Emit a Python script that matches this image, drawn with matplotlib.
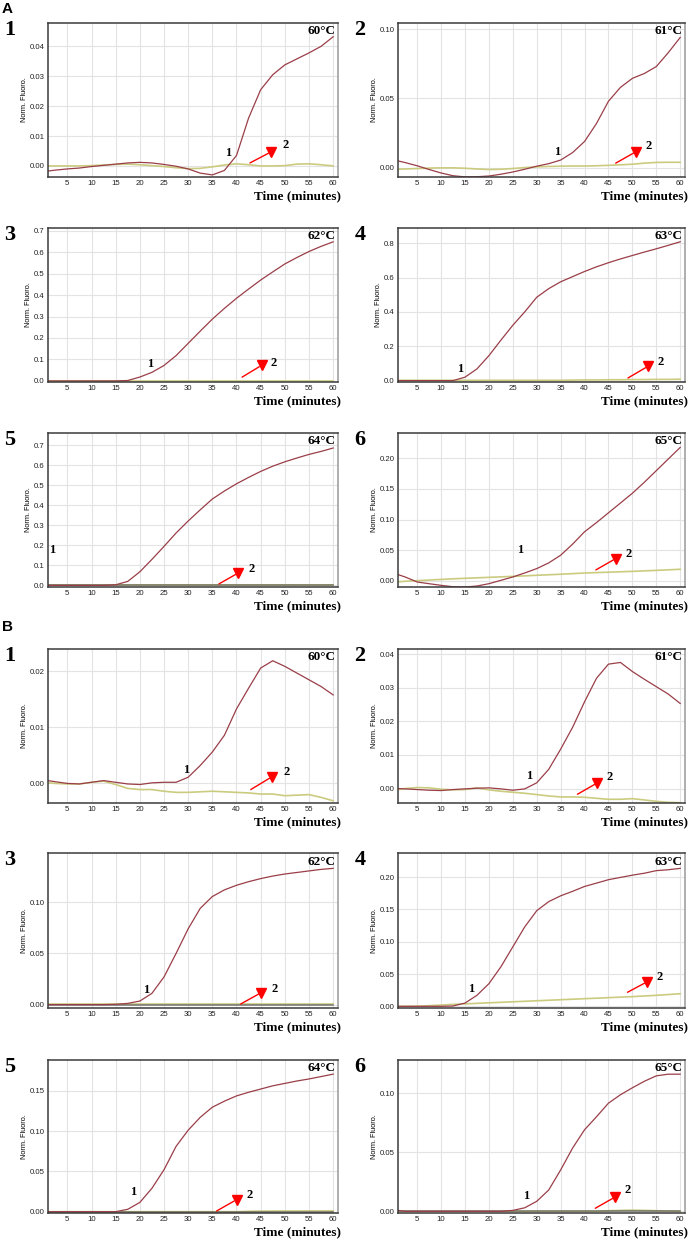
import matplotlib
matplotlib.use("Agg")
import matplotlib.pyplot as plt

# time axis (minutes)
t = [1, 2.5, 5, 7.5, 10, 12.5, 15, 17.5, 20, 22.5, 25, 27.5, 30,
     32.5, 35, 37.5, 40, 42.5, 45, 47.5, 50, 52.5, 55, 57.5, 60]

# ---- section A ----
a1_red = [-0.0017, -0.0014, -0.0010, -0.0007, -0.0002, 0.0002, 0.0006, 0.0010, 0.0012, 0.0010,
          0.0005, -0.0001, -0.0010, -0.0024, -0.0030, -0.0015, 0.0035, 0.0160, 0.0255, 0.0305,
          0.0338, 0.0358, 0.0378, 0.0400, 0.0432]
a1_yel = [0.0000, 0.0000, 0.0000, 0.0000, 0.0001, 0.0003, 0.0005, 0.0006, 0.0004, 0.0001,
          -0.0002, -0.0006, -0.0009, -0.0008, -0.0003, 0.0003, 0.0007, 0.0004, 0.0000, 0.0000,
          0.0001, 0.0006, 0.0007, 0.0004, 0.0000]

a2_red = [0.0050, 0.0038, 0.0015, -0.0012, -0.0037, -0.0057, -0.0065, -0.0064, -0.0059, -0.0046,
          -0.0030, -0.0010, 0.0012, 0.0030, 0.0056, 0.0110, 0.0190, 0.0320, 0.0480, 0.0580,
          0.0645, 0.0680, 0.0730, 0.0830, 0.0940]
a2_yel = [-0.0010, -0.0008, -0.0005, -0.0002, 0.0000, 0.0000, -0.0003, -0.0008, -0.0012, -0.0010,
          -0.0005, 0.0002, 0.0007, 0.0010, 0.0012, 0.0013, 0.0013, 0.0015, 0.0018, 0.0022,
          0.0026, 0.0034, 0.0039, 0.0040, 0.0040]

a3_red = [0.0, 0.0, 0.0, 0.0, 0.0, 0.0, 0.0, 0.002, 0.018, 0.040,
          0.072, 0.118, 0.175, 0.232, 0.288, 0.338, 0.385, 0.428, 0.470, 0.508,
          0.545, 0.575, 0.603, 0.627, 0.648]
a3_yel = [0.001, 0.001, 0.001, 0.001, 0.001, 0.001, 0.001, 0.001, 0.001, 0.001,
          0.001, 0.001, 0.001, 0.001, 0.001, 0.001, 0.001, 0.001, 0.001, 0.001,
          0.001, 0.001, 0.001, 0.001, 0.001]

a4_red = [0.0, 0.0, 0.0, 0.0, 0.0, 0.0, 0.020, 0.068, 0.145, 0.235,
          0.322, 0.400, 0.485, 0.535, 0.575, 0.605, 0.635, 0.662, 0.686, 0.708,
          0.728, 0.748, 0.767, 0.787, 0.808]
a4_yel = [0.002, 0.002, 0.002, 0.002, 0.002, 0.002, 0.002, 0.002, 0.002, 0.002,
          0.002, 0.002, 0.002, 0.002, 0.002, 0.003, 0.004, 0.004, 0.005, 0.005,
          0.006, 0.006, 0.007, 0.007, 0.008]

a5_red = [0.0, 0.0, 0.0, 0.0, 0.0, 0.0, 0.003, 0.020, 0.068, 0.130,
          0.195, 0.262, 0.322, 0.378, 0.432, 0.472, 0.508, 0.540, 0.570, 0.596,
          0.618, 0.637, 0.655, 0.670, 0.687]
a5_yel = [0.0, 0.0, 0.0, 0.0, 0.0, 0.0, 0.0, 0.0, 0.0, 0.0,
          0.0, 0.0, 0.0, 0.0, 0.0, 0.0, 0.0, 0.0, 0.0, 0.0,
          0.0, 0.0, 0.0, 0.0, 0.0]

a6_red = [0.0099, 0.0060, -0.0022, -0.0050, -0.0077, -0.0100, -0.0104, -0.0088, -0.0050, 0.0005,
          0.0060, 0.0126, 0.0197, 0.0290, 0.0416, 0.0597, 0.0800, 0.0950, 0.1110, 0.1270,
          0.1430, 0.1610, 0.1800, 0.1990, 0.2180]
a6_yel = [-0.0020, -0.0010, 0.0000, 0.0010, 0.0020, 0.0030, 0.0038, 0.0046, 0.0054, 0.0062,
          0.0070, 0.0078, 0.0088, 0.0096, 0.0105, 0.0115, 0.0125, 0.0132, 0.0138, 0.0145,
          0.0152, 0.0160, 0.0168, 0.0177, 0.0186]

# ---- section B ----
b1_red = [0.0005, 0.0003, 0.0000, -0.0001, 0.0002, 0.0005, 0.0002, -0.0001, -0.0002, 0.0001,
          0.0002, 0.0002, 0.0011, 0.0032, 0.0056, 0.0086, 0.0133, 0.0170, 0.0206, 0.0219,
          0.0209, 0.0197, 0.0185, 0.0173, 0.0158]
b1_yel = [0.0001, 0.0000, -0.0001, -0.0001, 0.0002, 0.0004, -0.0002, -0.0009, -0.0011, -0.0011,
          -0.0014, -0.0016, -0.0016, -0.0015, -0.0014, -0.0015, -0.0016, -0.0017, -0.0019, -0.0019,
          -0.0022, -0.0021, -0.0020, -0.0025, -0.0031]

b2_red = [0.0000, -0.0001, -0.0003, -0.0005, -0.0006, -0.0003, -0.0001, 0.0001, 0.0002, -0.0001,
          -0.0005, -0.0001, 0.0017, 0.0057, 0.0117, 0.0182, 0.0258, 0.0328, 0.0370, 0.0375,
          0.0348, 0.0325, 0.0303, 0.0281, 0.0253]
b2_yel = [-0.0003, 0.0000, 0.0003, 0.0002, -0.0002, -0.0004, -0.0003, 0.0002, -0.0004, -0.0008,
          -0.0011, -0.0014, -0.0018, -0.0022, -0.0025, -0.0025, -0.0026, -0.0029, -0.0032, -0.0032,
          -0.0030, -0.0034, -0.0038, -0.0041, -0.0042]

b3_red = [0.0, 0.0, 0.0, 0.0, 0.0, 0.0, 0.0003, 0.0012, 0.0035, 0.011,
          0.027, 0.050, 0.074, 0.094, 0.1055, 0.112, 0.1165, 0.120, 0.123, 0.1255,
          0.1275, 0.129, 0.1305, 0.132, 0.133]
b3_yel = [0.0005, 0.0005, 0.0005, 0.0005, 0.0005, 0.0005, 0.0005, 0.0005, 0.0005, 0.0005,
          0.0005, 0.0005, 0.0005, 0.0005, 0.0005, 0.0005, 0.0005, 0.0005, 0.0005, 0.0005,
          0.0005, 0.0005, 0.0005, 0.0005, 0.0005]

b4_red = [0.0, 0.0, 0.0, 0.0, 0.0, 0.0005, 0.005, 0.017, 0.035, 0.061,
          0.092, 0.123, 0.148, 0.162, 0.171, 0.178, 0.1855, 0.1907, 0.196, 0.1995,
          0.203, 0.206, 0.210, 0.2114, 0.2135]
b4_yel = [0.0000, 0.0000, 0.0002, 0.0010, 0.0020, 0.0030, 0.0038, 0.0046, 0.0054, 0.0062,
          0.0070, 0.0078, 0.0086, 0.0094, 0.0102, 0.0110, 0.0118, 0.0126, 0.0134, 0.0142,
          0.0150, 0.0160, 0.0170, 0.0182, 0.0195]

b5_red = [0.0, 0.0, 0.0, 0.0, 0.0, 0.0, 0.0, 0.003, 0.0115, 0.029,
          0.052, 0.081, 0.101, 0.117, 0.1295, 0.137, 0.1435, 0.148, 0.152, 0.156,
          0.159, 0.162, 0.1645, 0.1675, 0.1705]
b5_yel = [0.0, 0.0, 0.0, 0.0, 0.0, 0.0, 0.0, 0.0, 0.0, 0.0,
          0.0, 0.0, 0.0, 0.0, 0.0, 0.0, 0.0, 0.0005, 0.0008, 0.0008,
          0.0009, 0.0009, 0.0010, 0.0010, 0.0010]

b6_red = [0.0008, 0.0, 0.0, 0.0, 0.0, 0.0, 0.0, 0.0, 0.0, 0.0,
          0.0008, 0.003, 0.0085, 0.018, 0.035, 0.0535, 0.069, 0.080, 0.0915, 0.0986,
          0.1045, 0.110, 0.1146, 0.116, 0.116]
b6_yel = [0.0, 0.0, 0.0, 0.0, 0.0, 0.0, 0.0, 0.0, 0.0, 0.0,
          0.0, 0.0, 0.0, 0.0, 0.0, 0.0, 0.0, 0.0, 0.0005, 0.0008,
          0.0010, 0.0008, 0.0005, 0.0003, 0.0]

temps = ["60°C", "61°C", "62°C", "63°C", "64°C", "65°C"]

RED = "#9a3e48"
YEL = "#cbcb80"
DARK = "#555555"

# per panel: data, ylim, ytick step, decimals, label "1" pos, label "2" pos, arrow tail, arrow head
panels = [
    (a1_red, a1_yel, (-0.0037, 0.0478), 0.01, 2, (0.620, 0.157), (0.821, 0.207), (0.688, 0.083), (0.769, 0.163), False),
    (a2_red, a2_yel, (-0.0066, 0.1044), 0.05, 2, (0.555, 0.160), (0.872, 0.204), (0.750, 0.081), (0.830, 0.165), False),
    (a3_red, a3_yel, (-0.005, 0.7125), 0.1, 1, (0.354, 0.115), (0.779, 0.124), (0.661, 0.022), (0.737, 0.109), False),
    (a4_red, a4_yel, (-0.008, 0.888), 0.2, 1, (0.218, 0.083), (0.914, 0.130), (0.793, 0.017), (0.871, 0.102), False),
    (a5_red, a5_yel, (-0.008, 0.762), 0.1, 1, (0.016, 0.242), (0.702, 0.117), (0.581, 0.011), (0.656, 0.091), True),
    (a6_red, a6_yel, (-0.0104, 0.2416), 0.05, 2, (0.426, 0.239), (0.803, 0.213), (0.681, 0.102), (0.759, 0.185), False),
    (b1_red, b1_yel, (-0.0035, 0.024), 0.01, 2, (0.477, 0.213), (0.822, 0.200), (0.691, 0.078), (0.772, 0.170), False),
    (b2_red, b2_yel, (-0.0043, 0.0415), 0.01, 2, (0.458, 0.175), (0.737, 0.168), (0.617, 0.048), (0.695, 0.131), False),
    (b3_red, b3_yel, (-0.0033, 0.148), 0.05, 2, (0.338, 0.114), (0.780, 0.121), (0.656, 0.017), (0.735, 0.099), True),
    (b4_red, b4_yel, (-0.0026, 0.2373), 0.05, 2, (0.255, 0.125), (0.913, 0.200), (0.791, 0.093), (0.867, 0.168), False),
    (b5_red, b5_yel, (-0.0016, 0.188), 0.05, 2, (0.294, 0.137), (0.694, 0.115), (0.573, 0.004), (0.650, 0.087), True),
    (b6_red, b6_yel, (-0.0014, 0.128), 0.05, 2, (0.447, 0.109), (0.800, 0.148), (0.679, 0.022), (0.756, 0.104), True),
]

W, H = 690, 1241
rows = [(23, 177), (228, 382), (433, 587), (649, 803), (853, 1008), (1060, 1213)]
cols = [(48, 338), (398, 685)]

fig = plt.figure(figsize=(W / 100, H / 100), dpi=100)
serif = ["Liberation Serif", "DejaVu Serif"]
sans = ["Liberation Sans", "DejaVu Sans"]

for i, p in enumerate(panels):
    red, yel, ylim, step, dec, l1, l2, tail, head, base = p
    r, c = divmod(i % 6, 2)
    r += 3 * (i // 6)
    top, bot = rows[r]
    left, right = cols[c]
    ax = fig.add_axes([left / W, 1 - bot / H, (right - left) / W, (bot - top) / H])

    ax.set_xlim(1, 61)
    ax.set_ylim(*ylim)
    ax.set_xticks(range(5, 61, 5))
    nt = int(ylim[1] / step + 1e-9)
    yt = [k * step for k in range(nt + 1)]
    ax.set_yticks(yt)
    ax.set_yticklabels([f"{v:.{dec}f}" for v in yt])
    ax.grid(True, color="#e3e3e3", lw=0.8)
    ax.set_axisbelow(True)
    ax.tick_params(length=0, pad=2.5, labelsize=5.6, colors="#222222")
    for lab in ax.get_xticklabels() + ax.get_yticklabels():
        lab.set_family(sans)
    for s in ax.spines.values():
        s.set_color("#3a3a3a")
        s.set_linewidth(1.1)
    ax.spines["right"].set_color("#999999")
    ax.set_ylabel("Norm. Fluoro.", fontsize=5.3, family=sans, labelpad=1)

    ax.plot(t, yel, color=YEL, lw=1.2)
    if base:
        ax.plot(t, [v * 0 for v in yel], color=DARK, lw=1.2, alpha=0.7)
    ax.plot(t, red, color=RED, lw=0.9)

    ax.text(0.992, 0.945, temps[i % 6], transform=ax.transAxes, ha="right", va="center",
            fontsize=9.5, fontweight="bold", family=serif)
    ax.text(1.01, -0.125, "Time (minutes)", transform=ax.transAxes, ha="right", va="center",
            fontsize=9.5, fontweight="bold", family=serif, clip_on=False)
    ax.text(l1[0], l1[1], "1", transform=ax.transAxes, ha="center", va="center",
            fontsize=9, fontweight="bold", family=serif)
    ax.text(l2[0], l2[1], "2", transform=ax.transAxes, ha="center", va="center",
            fontsize=9, fontweight="bold", family=serif)
    ax.annotate("", xy=head, xytext=tail, xycoords="axes fraction",
                arrowprops=dict(arrowstyle="-", color="red", lw=1))
    ax.plot([head[0]], [head[1]], marker="v", color="red", ms=7.5, transform=ax.transAxes, clip_on=False)

    # panel number
    fig.text((10 if c == 0 else 360) / W, 1 - (top + 7) / H, str(i % 6 + 1),
             ha="center", va="center", fontsize=16, fontweight="bold", family=serif)

fig.text(2 / W, 1 - 9 / H, "A", ha="left", va="center", fontsize=11, fontweight="bold", family=sans)
fig.text(2 / W, 1 - 627 / H, "B", ha="left", va="center", fontsize=11, fontweight="bold", family=sans)

fig.savefig("out.png", dpi=100)
